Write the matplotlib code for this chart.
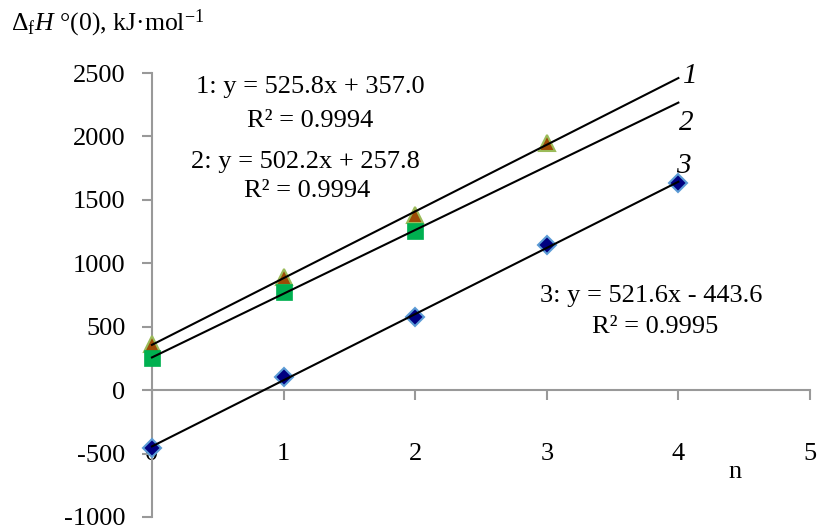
import numpy as np
import matplotlib.pyplot as plt

plt.rcParams['font.family'] = 'Liberation Serif'
plt.rcParams['mathtext.fontset'] = 'custom'
plt.rcParams['mathtext.rm'] = 'Liberation Serif'
plt.rcParams['mathtext.it'] = 'Liberation Serif:italic'
plt.rcParams['axes.unicode_minus'] = False

# enthalpies of formation vs n for three homologous series
n1 = [0, 1, 2, 3]
h1 = [360, 890, 1380, 1950]
n2 = [0, 1, 2]
h2 = [250, 775, 1254]
n3 = [0, 1, 2, 3, 4]
h3 = [-455, 100, 580, 1145, 1630]

# linear trendlines (slope, intercept, R^2)
fits = [(525.8, 357.0, 0.9994), (502.2, 257.8, 0.9994), (521.6, -443.6, 0.9995)]

fig = plt.figure(figsize=(8.17, 5.29), dpi=100)
ax = fig.add_axes([0.186, 0.0227, 0.8054, 0.8393])

ax.plot(n1, h1, ls='none', marker='^', ms=12, mfc='#9C4A06', mec='#9BBB59',
        mew=1.5, clip_on=False, zorder=3)
ax.plot(n2, h2, ls='none', marker='s', ms=11, mfc='#00B050', mec='#00B050',
        mew=0.5, clip_on=False, zorder=4)
ax.plot(n3, h3, ls='none', marker='D', ms=9.5, mfc='#000080', mec='#5B9BD5',
        mew=1.5, clip_on=False, zorder=5)

xs = np.array([0, 4])
for k, b, r2 in fits:
    ax.plot(xs, k * xs + b, color='black', lw=1.5, zorder=6, clip_on=False)

ax.set_xlim(0, 5)
ax.set_ylim(-1000, 2500)
ax.set_xticks(range(0, 6))
ax.set_yticks(range(-1000, 2501, 500))

for s in ['top', 'right']:
    ax.spines[s].set_visible(False)
ax.spines['bottom'].set_position(('data', 0))
for s in ['left', 'bottom']:
    ax.spines[s].set_color('#999999')
    ax.spines[s].set_linewidth(1.5)
ax.tick_params(axis='both', colors='#999999', width=1.5, length=7,
               labelcolor='black', labelsize=19)
ax.tick_params(axis='x', pad=31)
ax.tick_params(axis='y', pad=12)
ax.set_facecolor('none')

# trendline equations: (x of equation, baseline), (x of R², baseline)
eq_pos = [((1.20, 2340), (1.205, 2075)),
          ((1.163, 1749), (1.18, 1521)),
          ((3.79, 693), (3.82, 449))]
for i, ((k, b, r2), (p_eq, p_r2)) in enumerate(zip(fits, eq_pos)):
    sign = '+' if b >= 0 else '-'
    ax.text(*p_eq, f'{i + 1}: y = {k:.1f}x {sign} {abs(b):.1f}', ha='center',
            va='baseline', fontsize=19)
    ax.text(*p_r2, f'R² = {r2:.4f}', ha='center', va='baseline', fontsize=19)

# series numbers at line ends
ax.text(4.09, 2478, '1', fontsize=21, style='italic', ha='center', va='center')
ax.text(4.06, 2108, '2', fontsize=21, style='italic', ha='center', va='center')
ax.text(4.04, 1765, '3', fontsize=21, style='italic', ha='center', va='center')

ax.text(4.43, -693, 'n', fontsize=19, ha='center', va='baseline')
fig.text(0.014, 0.943, r'$\Delta_{\rm f}H$ °(0), kJ·mol$^{-1}$', fontsize=18.5,
         ha='left', va='baseline')

fig.savefig('out.png', dpi=100)
